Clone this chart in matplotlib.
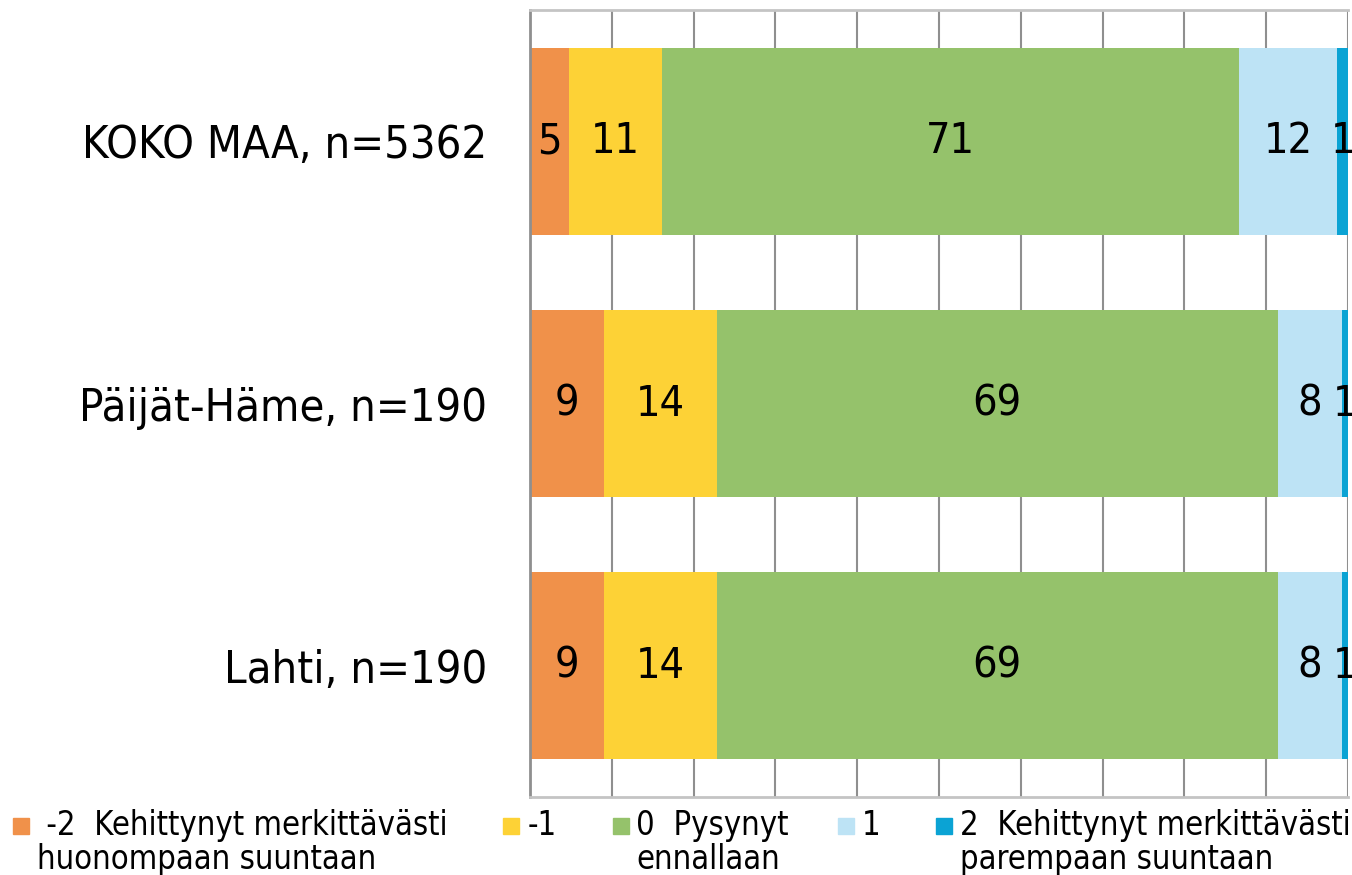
import matplotlib
matplotlib.use("Agg")
import matplotlib.pyplot as plt
from matplotlib.patches import Rectangle

plt.rcParams['font.family'] = ['DejaVu Sans']
plt.rcParams['font.stretch'] = 'condensed'

groups = ["KOKO MAA, n=5362", "Päijät-Häme, n=190", "Lahti, n=190"]
cats = [" -2  Kehittynyt merkittävästi\nhuonompaan suuntaan", "-1",
        "0  Pysynyt\nennallaan", "1",
        "2  Kehittynyt merkittävästi\nparempaan suuntaan"]
# percentages per group
m2 = [4.8, 9.0, 9.0]
m1 = [11.3, 13.8, 13.8]
zero = [70.6, 68.6, 68.6]
p1 = [12.0, 7.9, 7.9]
p2 = [1.3, 0.7, 0.7]
labels = [[5, 11, 71, 12, 1], [9, 14, 69, 8, 1], [9, 14, 69, 8, 1]]
colors = ["#F0914A", "#FDD236", "#95C26B", "#BDE3F5", "#0BA3D4"]

series = [m2, m1, zero, p1, p2]

fig = plt.figure(figsize=(13.52, 8.75), dpi=100)
ax = fig.add_axes((530/1352, 1-797/875, 818/1352, 787/875))

ypos = list(range(len(groups)))
left = [0.0] * len(groups)
for k, vals in enumerate(series):
    ax.barh(ypos, vals, left=left, height=0.714, color=colors[k], zorder=2)
    for i, v in enumerate(vals):
        ax.text(left[i] + v / 2, ypos[i], str(labels[i][k]), ha='center', va='center',
                fontsize=31, zorder=3, clip_on=False)
    left = [l + v for l, v in zip(left, vals)]

ax.set_xlim(0, 100)
ax.set_ylim(len(groups) - 0.5, -0.5)
ax.set_xticks(range(0, 101, 10))
ax.set_xticklabels([])
ax.set_yticks(ypos)
ax.set_yticklabels(groups, fontsize=32.5)
ax.tick_params(length=0)
ax.tick_params(axis='y', pad=31)
ax.grid(axis='x', color='#8f8f8f', linewidth=1.5, zorder=1)
ax.set_axisbelow(True)
ax.spines['left'].set_color('#8f8f8f')
ax.spines['left'].set_linewidth(2)
ax.spines['top'].set_color('#c4c4c4')
ax.spines['top'].set_linewidth(2)
ax.spines['bottom'].set_color('#c4c4c4')
ax.spines['bottom'].set_linewidth(2)
ax.spines['right'].set_visible(False)

# legend laid out by hand (marker left edge, text left edge in px)
marker_x = [13, 503, 613, 838, 936]
text_x = [37, 528, 636, 862, 960]
for k in range(len(cats)):
    fig.patches.append(Rectangle((marker_x[k] / 1352, 1 - 834 / 875), 16 / 1352, 16 / 875,
                                 transform=fig.transFigure, color=colors[k]))
    fig.text(text_x[k] / 1352, 1 - 809 / 875, cats[k], ha='left', va='top',
             fontsize=23.5, linespacing=1.02)

fig.savefig("out.png", dpi=100)
